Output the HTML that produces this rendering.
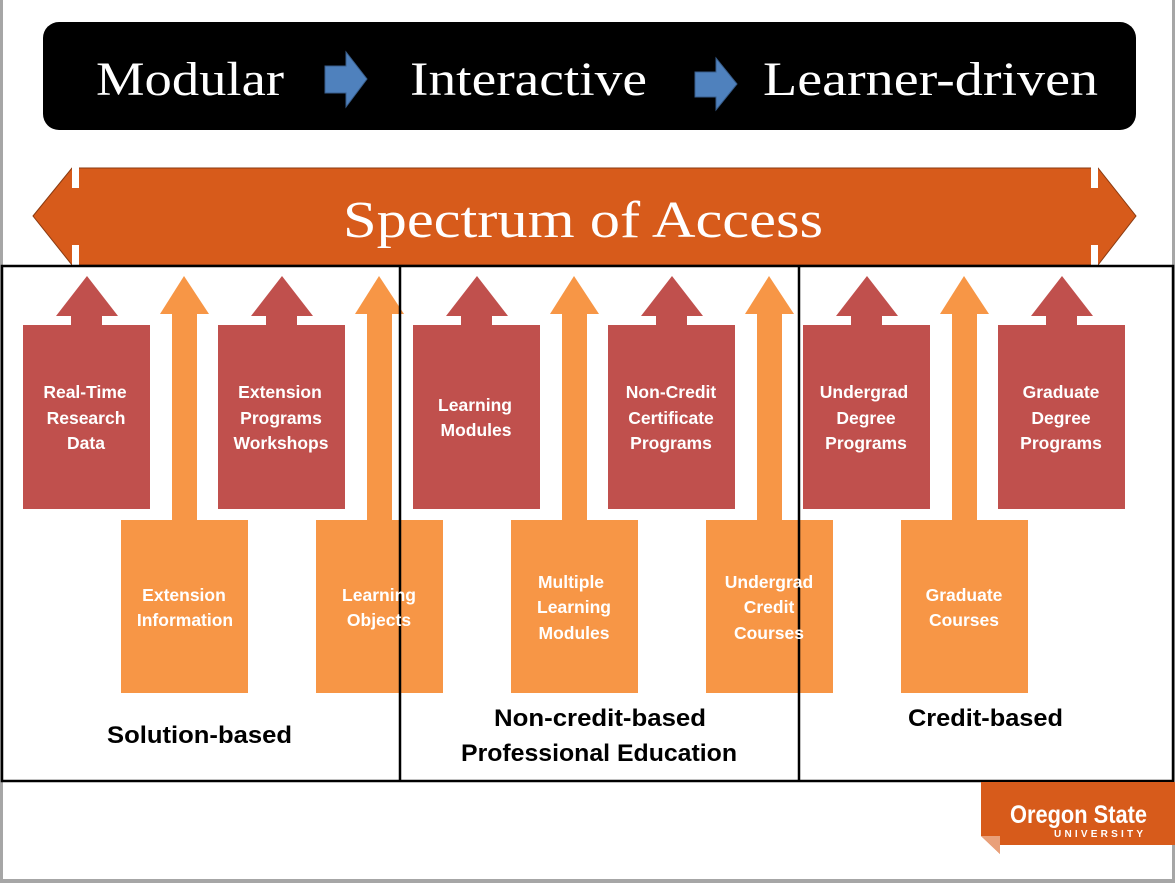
<!DOCTYPE html>
<html><head><meta charset="utf-8"><style>
html,body{margin:0;padding:0;background:#fff;}
svg{display:block;}
.w{font-family:"Liberation Sans",sans-serif;font-weight:bold;font-size:17.5px;fill:#fff;text-anchor:middle;}
.b{font-family:"Liberation Sans",sans-serif;font-weight:bold;font-size:24px;fill:#000;}
.s{font-family:"Liberation Serif",serif;fill:#fff;}
</style></head><body>
<svg width="1175" height="883" viewBox="0 0 1175 883" xmlns="http://www.w3.org/2000/svg">
<rect x="0" y="0" width="1175" height="883" fill="#fff"/>
<rect x="0" y="0" width="3" height="883" fill="#a6a6a6"/>
<rect x="1172" y="0" width="3" height="883" fill="#a6a6a6"/>
<rect x="0" y="879" width="1175" height="4" fill="#a6a6a6"/>
<rect x="43" y="22" width="1093" height="108" rx="16" fill="#000"/>
<text class="s" x="96" y="95" font-size="48" textLength="188" lengthAdjust="spacingAndGlyphs">Modular</text>
<text class="s" x="410" y="95" font-size="48" textLength="237" lengthAdjust="spacingAndGlyphs">Interactive</text>
<text class="s" x="763" y="95" font-size="48" textLength="335" lengthAdjust="spacingAndGlyphs">Learner-driven</text>
<polygon points="325,66 346,66 346,52 367,79 346,107 346,93 325,93" fill="#4f81bd" stroke="#385d8a"/>
<polygon points="695,72 716,72 716,58 737,84 716,110 716,97 695,97" fill="#4f81bd" stroke="#385d8a"/>
<polygon points="33,216 72,168 1098,168 1136,216 1098,265 72,265" fill="#d75b1b" stroke="#8a3a10"/>
<rect x="72" y="167" width="7" height="21" fill="#fff"/>
<rect x="72" y="245" width="7" height="21" fill="#fff"/>
<rect x="1091" y="167" width="7" height="21" fill="#fff"/>
<rect x="1091" y="245" width="7" height="21" fill="#fff"/>
<text class="s" x="343" y="237" font-size="52" textLength="480" lengthAdjust="spacingAndGlyphs">Spectrum of Access</text>
<g fill="#c0504d">
<rect x="23" y="325" width="127" height="184"/><rect x="71" y="312" width="31" height="14"/><polygon points="56,316 87,276 118,316"/>
<rect x="218" y="325" width="127" height="184"/><rect x="266" y="312" width="31" height="14"/><polygon points="251,316 282,276 313,316"/>
<rect x="413" y="325" width="127" height="184"/><rect x="461" y="312" width="31" height="14"/><polygon points="446,316 477,276 508,316"/>
<rect x="608" y="325" width="127" height="184"/><rect x="656" y="312" width="31" height="14"/><polygon points="641,316 672,276 703,316"/>
<rect x="803" y="325" width="127" height="184"/><rect x="851" y="312" width="31" height="14"/><polygon points="836,316 867,276 898,316"/>
<rect x="998" y="325" width="127" height="184"/><rect x="1046" y="312" width="31" height="14"/><polygon points="1031,316 1062,276 1093,316"/>
</g>
<g fill="#f79646">
<rect x="121" y="520" width="127" height="173"/><rect x="172" y="312" width="25" height="210"/><polygon points="160,314 184,276 209,314"/>
<rect x="316" y="520" width="127" height="173"/><rect x="367" y="312" width="25" height="210"/><polygon points="355,314 379,276 404,314"/>
<rect x="511" y="520" width="127" height="173"/><rect x="562" y="312" width="25" height="210"/><polygon points="550,314 574,276 599,314"/>
<rect x="706" y="520" width="127" height="173"/><rect x="757" y="312" width="25" height="210"/><polygon points="745,314 769,276 794,314"/>
<rect x="901" y="520" width="127" height="173"/><rect x="952" y="312" width="25" height="210"/><polygon points="940,314 964,276 989,314"/>
</g>
<g fill="none" stroke="#000" stroke-width="2.5">
<rect x="2" y="266" width="1171" height="515"/>
<line x1="400" y1="266" x2="400" y2="781"/>
<line x1="799" y1="266" x2="799" y2="781"/>
</g>
<text class="w" x="85" y="398">Real-Time</text><text class="w" x="86" y="424">Research</text><text class="w" x="86" y="449">Data</text>
<text class="w" x="280" y="398">Extension</text><text class="w" x="281" y="424">Programs</text><text class="w" x="281" y="449">Workshops</text>
<text class="w" x="475" y="411">Learning</text><text class="w" x="476" y="436">Modules</text>
<text class="w" x="671" y="398">Non-Credit</text><text class="w" x="671" y="424">Certificate</text><text class="w" x="671" y="449">Programs</text>
<text class="w" x="864" y="398">Undergrad</text><text class="w" x="866" y="424">Degree</text><text class="w" x="866" y="449">Programs</text>
<text class="w" x="1061" y="398">Graduate</text><text class="w" x="1061" y="424">Degree</text><text class="w" x="1061" y="449">Programs</text>
<text class="w" x="184" y="601">Extension</text><text class="w" x="185" y="626">Information</text>
<text class="w" x="379" y="601">Learning</text><text class="w" x="379" y="626">Objects</text>
<text class="w" x="571" y="588">Multiple</text><text class="w" x="574" y="613">Learning</text><text class="w" x="574" y="639">Modules</text>
<text class="w" x="769" y="588">Undergrad</text><text class="w" x="769" y="613">Credit</text><text class="w" x="769" y="639">Courses</text>
<text class="w" x="964" y="601">Graduate</text><text class="w" x="964" y="626">Courses</text>
<text class="b" x="107" y="743" textLength="185" lengthAdjust="spacingAndGlyphs">Solution-based</text>
<text class="b" x="494" y="726" textLength="212" lengthAdjust="spacingAndGlyphs">Non-credit-based</text>
<text class="b" x="461" y="761" textLength="276" lengthAdjust="spacingAndGlyphs">Professional Education</text>
<text class="b" x="908" y="726" textLength="155" lengthAdjust="spacingAndGlyphs">Credit-based</text>
<polygon points="981,782 1175,782 1175,845 1000,845 1000,854 981,836" fill="#d75b1b"/>
<polygon points="981,836 1000,836 1000,854" fill="#e9a07a"/>
<text x="1010" y="823" font-family="Liberation Sans,sans-serif" font-weight="bold" font-size="25" fill="#fff" textLength="137" lengthAdjust="spacingAndGlyphs">Oregon State</text>
<text x="1054" y="837" font-family="Liberation Sans,sans-serif" font-weight="bold" font-size="10" fill="#fff" letter-spacing="3" textLength="92">UNIVERSITY</text>
</svg>
</body></html>
